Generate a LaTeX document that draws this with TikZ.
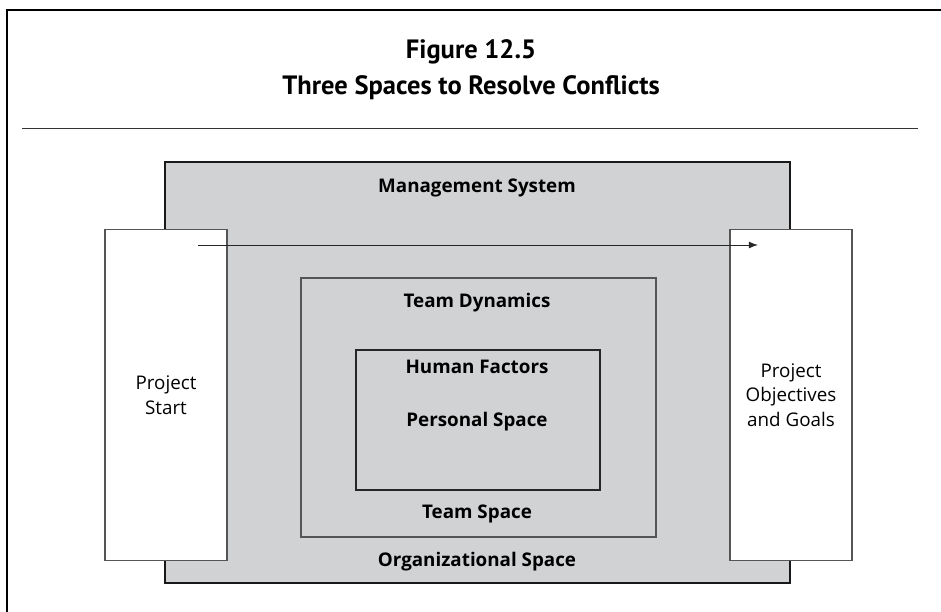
\documentclass[tikz,border=0pt]{standalone}
\usepackage{fontspec}
\setmainfont{Open Sans}
\newfontfamily\titlefont{PT Sans}
\usetikzlibrary{arrows.meta,positioning}
\definecolor{spacegray}{HTML}{D1D2D4}
\definecolor{edgegray}{HTML}{555555}
\tikzset{space/.style={rectangle,draw,fill=spacegray,inner sep=0pt},endbox/.style={rectangle,draw=edgegray,line width=1.4pt,fill=white,minimum width=122pt,minimum height=331pt,inner sep=0pt,align=center,font=\fontsize{18.8}{24.5}\selectfont},label/.style={font=\bfseries\fontsize{18.8}{22}\selectfont},flow/.style={-{Latex[length=3.2mm,width=2.4mm]},line width=1pt,black!85}}
\begin{document}
\begin{tikzpicture}[x=1pt,y=-1pt]
\useasboundingbox (0,0) rectangle (941,612);
\draw[line width=1.6pt] (7,612)--(7,10)--(941,10);
\node[font=\titlefont\bfseries\fontsize{26.5}{30}\selectfont] (fig) at (471,52) {Figure 12.5};
\node[font=\titlefont\bfseries\fontsize{26.5}{30}\selectfont] (title) at (471,88) {Three Spaces to Resolve Conflicts};
\draw[line width=1pt,black!80] (22,129)--(918,129);
\node[space,line width=2.6pt,draw=black!90,minimum width=625pt,minimum height=421pt] (mgmt) at (477.5,372.5) {};
\node[endbox] (start) at (166,395) {Project\\Start};
\node[endbox] (goals) at (791,395) {Project\\Objectives\\and Goals};
\node[space,line width=1.2pt,draw=edgegray,minimum width=355pt,minimum height=259pt] (team) at (478.5,407.5) {};
\node[space,line width=2.4pt,draw=black!85,minimum width=244pt,minimum height=140pt] (personal) at (478,420) {};
\foreach \n/\y/\t in {msys/188/Management System,orgs/562/Organizational Space,tdyn/303/Team Dynamics,hfac/367/Human Factors,pers/422/Personal Space,tspc/514/Team Space}{
\node[label] (\n) at (477,\y) {\t};
}
\coordinate (tail) at (198,245);
\coordinate (head) at (758,245);
\draw[flow] (tail)--(head);
\end{tikzpicture}
\end{document}
